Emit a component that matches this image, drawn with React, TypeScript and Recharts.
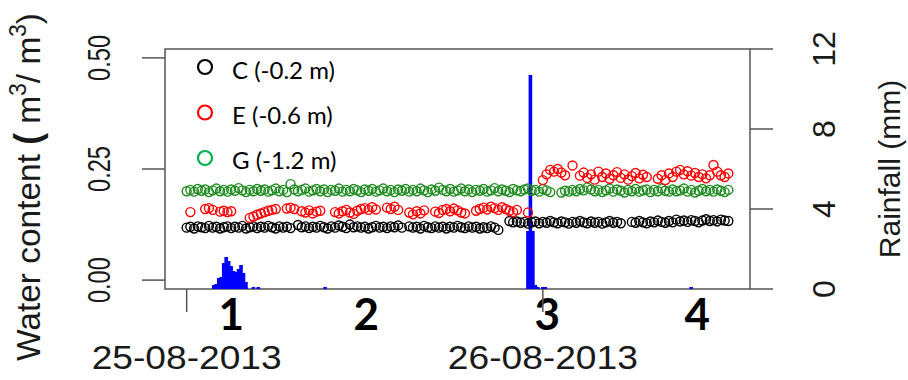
import React from "react";
import {
  ComposedChart,
  Scatter,
  Bar,
  XAxis,
  YAxis,
  ReferenceArea,
  ReferenceLine,
  Legend,
  Label,
} from "recharts";

// sampling interval of the soil sensors, hours
const STEP_HOURS = 0.25;

// water content (m3/m3), one value per 15 min from 25-08-2013 00:00
const soilC = [
  0.118, 0.12, 0.116, 0.121, 0.119, 0.117, 0.122, 0.118, 0.12, 0.116,
  0.119, 0.121, 0.117, 0.12, 0.118, 0.122, 0.116, 0.119, 0.121, 0.117,
  0.12, 0.118, 0.122, 0.119, 0.116, 0.121, 0.118, 0.12, 0.117, null,
  0.124, 0.119, 0.121, 0.117, 0.12, 0.118, 0.122, 0.119, 0.116, 0.121,
  0.118, 0.123, 0.12, 0.117, 0.125, 0.119, 0.121, 0.118, 0.12, 0.116,
  0.119, 0.122, 0.118, 0.12, 0.117, 0.121, 0.119, 0.123, 0.118, null,
  0.121, 0.118, 0.12, 0.116, 0.122, 0.119, 0.117, 0.121, 0.118, 0.12,
  0.116, 0.12, 0.118, 0.122, 0.119, 0.117, 0.121, 0.118, 0.12, 0.116,
  0.119, 0.117, 0.121, 0.118, 0.113, null, null, 0.133, 0.13, 0.132,
  0.129, 0.131, 0.127, 0.13, 0.132, 0.128, 0.131, 0.129, 0.133, 0.13,
  0.128, 0.132, 0.13, 0.127, 0.131, 0.129, 0.133, 0.13, 0.128, 0.132,
  0.129, 0.131, 0.127, 0.13, 0.133, 0.129, 0.131, 0.128, null, null,
  0.131, 0.129, 0.133, 0.13, 0.128, 0.132, 0.13, 0.134, 0.131, 0.129,
  0.133, 0.13, 0.136, 0.132, 0.134, 0.131, 0.135, 0.133, 0.13, 0.134,
  0.137, 0.133, 0.135, 0.132, 0.136, 0.134, 0.133,
];

const soilE = [
  null, 0.153, null, null, null, 0.16, 0.162, 0.158, null, 0.154,
  0.156, 0.153, 0.155, null, null, null, null, 0.14, 0.143, 0.147,
  0.15, 0.153, 0.156, 0.158, 0.16, null, null, 0.161, 0.163, 0.16,
  null, 0.155, 0.152, 0.157, 0.15, 0.154, 0.156, null, null, null,
  0.153, 0.15, 0.155, 0.158, 0.152, 0.149, 0.156, 0.16, 0.162, 0.158,
  0.164, 0.159, null, null, 0.163, 0.16, 0.165, 0.158, null, null,
  0.152, 0.148, 0.155, 0.15, 0.157, null, null, 0.154, 0.151, 0.158,
  0.16, 0.155, 0.161, 0.157, 0.152, 0.15, null, null, 0.156, 0.16,
  0.163, 0.159, 0.165, 0.162, 0.158, 0.164, 0.16, 0.156, 0.153, 0.158,
  null, null, 0.152, null, null, null, 0.225, 0.238, 0.248, 0.244,
  0.25, 0.242, 0.236, null, 0.258, null, 0.235, 0.242, 0.23, 0.238,
  0.226, 0.244, 0.232, 0.24, 0.228, 0.236, 0.243, 0.23, 0.238, 0.226,
  0.234, 0.241, 0.229, 0.237, 0.232, null, null, 0.228, 0.236, 0.225,
  0.24, 0.232, 0.244, 0.248, 0.238, 0.245, 0.235, 0.241, 0.232, 0.238,
  0.229, 0.236, 0.259, 0.244, 0.236, 0.232, 0.24,
];

const soilG = [
  0.2, 0.203, 0.199, 0.205, 0.201, 0.204, 0.198, 0.202, 0.206, 0.2,
  0.203, 0.199, 0.204, 0.201, 0.207, 0.202, 0.198, 0.203, 0.2, 0.205,
  0.201, 0.204, 0.199, 0.202, 0.206, 0.2, 0.203, 0.198, 0.216, 0.204,
  0.2, 0.203, 0.206, 0.199, 0.202, 0.205, 0.2, 0.204, 0.198, 0.203,
  0.201, 0.206, 0.199, 0.203, 0.2, 0.205, 0.202, 0.198, 0.204, 0.201,
  0.205, 0.199, 0.202, 0.206, 0.2, 0.203, 0.198, 0.204, 0.201, 0.205,
  0.199, 0.203, 0.2, 0.206, 0.202, 0.198, 0.204, 0.201, 0.208, 0.203,
  0.2, 0.205, 0.199, 0.202, 0.206, 0.2, 0.204, 0.198, 0.203, 0.201,
  0.205, 0.199, 0.202, 0.207, 0.2, 0.204, 0.201, 0.198, 0.205, 0.202,
  0.2, 0.204, 0.206, 0.201, 0.203, 0.199, 0.205, 0.202, 0.198, null,
  null, 0.197, 0.201, 0.199, 0.203, 0.2, 0.205, 0.202, 0.208, 0.204,
  0.2, 0.203, 0.198, 0.202, 0.206, 0.199, 0.204, 0.201, 0.197, 0.203,
  0.2, 0.205, 0.199, 0.202, 0.204, 0.198, 0.203, 0.2, 0.206, 0.201,
  0.199, 0.204, 0.2, 0.202, 0.206, 0.199, 0.203, 0.197, 0.201, 0.205,
  0.2, 0.203, 0.199, 0.204, 0.201, 0.198, 0.203,
];

// rainfall (mm) per 10 min, hours since 25-08-2013 00:00
const rainHours = [
  1.833, 2.0, 2.167, 2.333, 2.5, 2.667, 2.833, 3.0, 3.167, 3.333, 3.5, 3.667,
  3.833, 4.0, 4.5, 4.833, 9.333, 23.0, 23.167, 23.333, 23.5, 23.667, 24.0,
  24.167, 34.0,
];
const rainMm = [
  0.2, 0.25, 0.55, 0.6, 1.3, 1.6, 1.4, 1.15, 0.9, 0.85, 1.0, 1.2, 0.8, 0.35,
  0.1, 0.1, 0.1, 2.9, 10.7, 2.9, 0.2, 0.1, 0.1, 0.1, 0.1,
];

const xTickHours = [0, 24];
const xTickLabels = ["25-08-2013", "26-08-2013"];
const wcTicks = [0, 0.25, 0.5];
const rainTicks = [0, 4, 8, 12];
const periodHours = [3.0, 12.1, 24.3, 34.4];
const periodLabels = ["1", "2", "3", "4"];

const seriesNames = ["C (-0.2 m)", "E (-0.6 m)", "G (-1.2 m)"];
const pointColors = ["#000000", "#ff0000", "#1e8b1e"];
const legendColors = ["#000000", "#ff0000", "#00b050"];

const AXIS_FONT = "'Liberation Sans', Arial, sans-serif";
const NOTE_FONT = "Lato, 'Open Sans', sans-serif";
const INK = "#1a1a1a";
const FRAME = "#555555";

const toPoints = (values: (number | null)[]) =>
  values
    .map((v, i) => ({ t: i * STEP_HOURS, v }))
    .filter((d) => d.v !== null);

const rainData = rainHours.map((t, i) => ({ t, mm: rainMm[i] }));

const makeCircle = (color: string) => (props: any) => {
  const { cx, cy } = props;
  if (cx == null || cy == null) return <g />;
  return (
    <circle cx={cx} cy={cy} r={4.5} fill="none" stroke={color} strokeWidth={1.4} />
  );
};

// R-style type="h" rainfall: a fixed-width stick centred on its time
const RainStick = (props: any) => {
  const { x, y, width, height } = props;
  if (!height || height <= 0) return <g />;
  return <rect x={x + width / 2 - 1.8} y={y} width={3.6} height={height} fill="#0000ff" />;
};

const RotatedTick = ({ x, y, text, length }: any) => (
  <text
    x={x}
    y={y}
    transform={`rotate(-90 ${x} ${y})`}
    textAnchor="middle"
    fontSize={32}
    fontFamily={AXIS_FONT}
    fill={INK}
    textLength={length}
    lengthAdjust={length ? "spacingAndGlyphs" : undefined}
  >
    {text}
  </text>
);

const WcTick = (props: any) => (
  <RotatedTick
    x={props.x}
    y={props.y}
    text={Number(props.payload.value).toFixed(2)}
    length={46}
  />
);

const RainTick = (props: any) => (
  <RotatedTick x={props.x} y={props.y} text={String(props.payload.value)} />
);

const DateTick = (props: any) => {
  const idx = xTickHours.indexOf(props.payload.value);
  return (
    <text
      x={props.x}
      y={props.y}
      textAnchor="middle"
      fontSize={33}
      fontFamily={AXIS_FONT}
      fill={INK}
      textLength={190}
      lengthAdjust="spacingAndGlyphs"
    >
      {xTickLabels[idx]}
    </text>
  );
};

const WaterTitle = (props: any) => {
  const vb = props.viewBox;
  const x = vb.x + 40;
  const y = vb.y + vb.height / 2 + 18;
  return (
    <text
      x={x}
      y={y}
      transform={`rotate(-90 ${x} ${y})`}
      textAnchor="middle"
      fontSize={34}
      fontFamily={AXIS_FONT}
      fill={INK}
      textLength={348}
      lengthAdjust="spacingAndGlyphs"
    >
      {"Water content "}
      <tspan fontWeight="bold" fontSize={36}>
        (
      </tspan>
      <tspan>{" m"}</tspan>
      <tspan dy={-14} fontSize={23}>
        3
      </tspan>
      <tspan dy={14}>{"/ m"}</tspan>
      <tspan dy={-14} fontSize={23}>
        3
      </tspan>
      <tspan dy={14}>)</tspan>
    </text>
  );
};

const RainTitle = (props: any) => {
  const vb = props.viewBox;
  const x = vb.x + 150;
  const y = vb.y + vb.height / 2;
  return (
    <text
      x={x}
      y={y}
      transform={`rotate(-90 ${x} ${y})`}
      textAnchor="middle"
      fontSize={30}
      fontFamily={AXIS_FONT}
      fill={INK}
    >
      Rainfall (mm)
    </text>
  );
};

const periodLabel = (text: string) => (props: any) => {
  const vb = props.viewBox;
  return (
    <text
      x={vb.x}
      y={vb.y + vb.height + 41}
      textAnchor="middle"
      fontSize={44}
      fontWeight="bold"
      fontFamily={NOTE_FONT}
      fill="#000"
    >
      {text}
    </text>
  );
};

const LegendBox = () => (
  <svg width={200} height={130}>
    {seriesNames.map((name, i) => (
      <g key={name}>
        <circle
          cx={15}
          cy={17 + i * 45.5}
          r={7}
          fill="none"
          stroke={legendColors[i]}
          strokeWidth={2.2}
        />
        <text
          x={42}
          y={29 + i * 45}
          fontSize={24}
          fontFamily={NOTE_FONT}
          fill="#000"
        >
          {name}
        </text>
      </g>
    ))}
  </svg>
);

export default function App() {
  return (
    <div style={{ position: "absolute", left: 0, top: 0 }}>
      <ComposedChart
        width={908}
        height={380}
        data={rainData}
        margin={{ top: 49, right: 0, bottom: 0, left: 0 }}
      >
        <XAxis
          dataKey="t"
          type="number"
          domain={[-1.46, 37.96]}
          allowDataOverflow
          ticks={xTickHours}
          interval={0}
          height={91}
          tickSize={23}
          tickMargin={57}
          axisLine={false}
          tickLine={{ stroke: FRAME, strokeWidth: 1.5 }}
          tick={<DateTick />}
        />
        <YAxis
          yAxisId="wc"
          dataKey="v"
          type="number"
          domain={[-0.02, 0.52]}
          allowDataOverflow
          ticks={wcTicks}
          interval={0}
          width={165}
          tickSize={23}
          tickMargin={32}
          axisLine={false}
          tickLine={{ stroke: FRAME, strokeWidth: 1.5 }}
          tick={<WcTick />}
        >
          <Label content={<WaterTitle />} />
        </YAxis>
        <YAxis
          yAxisId="rain"
          orientation="right"
          type="number"
          domain={[0, 12]}
          allowDataOverflow
          ticks={rainTicks}
          interval={0}
          width={158}
          tickSize={23}
          tickMargin={62}
          axisLine={false}
          tickLine={{ stroke: FRAME, strokeWidth: 1.5 }}
          tick={<RainTick />}
        >
          <Label content={<RainTitle />} />
        </YAxis>
        <ReferenceArea
          yAxisId="wc"
          x1={-1.46}
          x2={37.96}
          y1={-0.02}
          y2={0.52}
          fill="none"
          fillOpacity={0}
          stroke={FRAME}
          strokeWidth={1.5}
        />
        <Scatter
          yAxisId="wc"
          name={seriesNames[2]}
          data={toPoints(soilG)}
          dataKey="v"
          shape={makeCircle(pointColors[2])}
          isAnimationActive={false}
        />
        <Scatter
          yAxisId="wc"
          name={seriesNames[0]}
          data={toPoints(soilC)}
          dataKey="v"
          shape={makeCircle(pointColors[0])}
          isAnimationActive={false}
        />
        <Scatter
          yAxisId="wc"
          name={seriesNames[1]}
          data={toPoints(soilE)}
          dataKey="v"
          shape={makeCircle(pointColors[1])}
          isAnimationActive={false}
        />
        <Bar
          yAxisId="rain"
          dataKey="mm"
          fill="#0000ff"
          barSize={3}
          shape={<RainStick />}
          isAnimationActive={false}
        />
        {periodHours.map((h, i) => (
          <ReferenceLine
            key={periodLabels[i]}
            yAxisId="wc"
            x={h}
            stroke="none"
            label={periodLabel(periodLabels[i])}
          />
        ))}
        <Legend
          layout="vertical"
          align="center"
          verticalAlign="middle"
          wrapperStyle={{ left: 190, top: 50, width: 200, height: 130 }}
          content={() => <LegendBox />}
        />
      </ComposedChart>
    </div>
  );
}
